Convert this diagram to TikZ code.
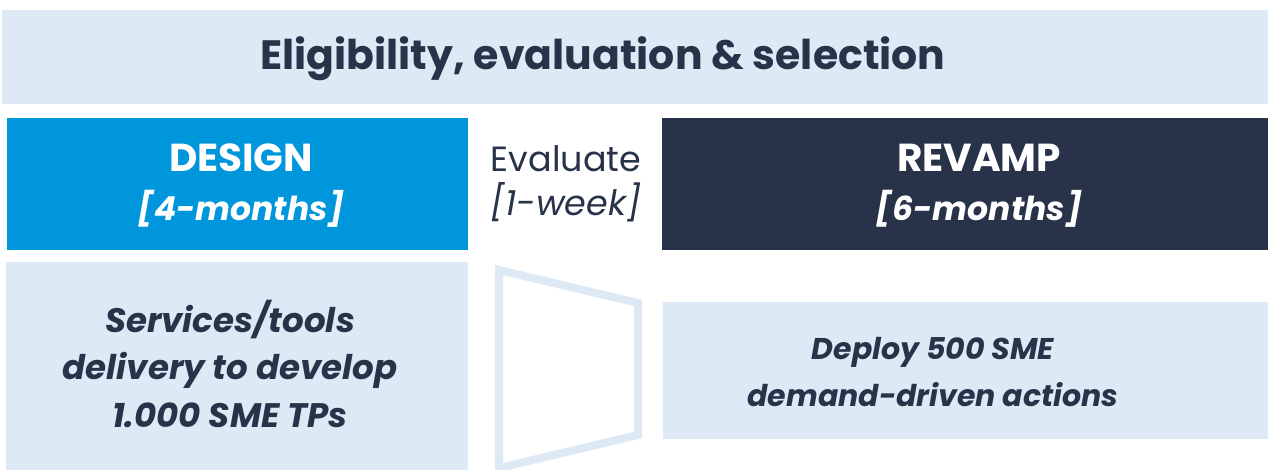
\documentclass[tikz,border=0pt]{standalone}
\usepackage{fontspec}
\setmainfont{Poppins}
\usetikzlibrary{positioning}
\definecolor{band}{HTML}{DDE9F5}
\definecolor{designblue}{HTML}{0096DB}
\definecolor{navy}{HTML}{28334A}
\tikzset{panel/.style={inner sep=0pt, outer sep=0pt, anchor=north west},
    label text/.style={anchor=base, align=center, inner sep=0pt},
    title font/.style={font=\bfseries\fontsize{41}{50}\selectfont, text=navy},
    phase font/.style={font=\bfseries\fontsize{39}{49}\selectfont, text=white},
    body font/.style={font=\bfseries\itshape\fontsize{34}{47.5}\selectfont, text=navy}}
\newcommand\phasespan[1]{{\itshape\fontsize{33}{49}\selectfont [#1]}}

\begin{document}
\begin{tikzpicture}[x=1pt, y=-1pt]
     \useasboundingbox (0,0) rectangle (1268,470);
     % background panels
     \node[panel, fill=band, minimum width=1266pt, minimum height=94pt] (selection) at (2,10) {};
     \node[panel, fill=designblue, minimum width=461pt, minimum height=132pt] (design) at (7,118) {};
     \node[panel, fill=navy, minimum width=606pt, minimum height=132pt] (revamp) at (662,118) {};
     \node[panel, fill=band, minimum width=462pt, minimum height=208pt] (services) at (6,262) {};
     \node[panel, fill=band, minimum width=605pt, minimum height=137pt] (deploy) at (663,302) {};
     % funnel
     \draw[band, line width=8pt, line join=miter] (499,270) -- (638,303) -- (638,435) -- (499,468) -- cycle;
     % texts (anchored on the last baseline)
     \node[label text, title font] (title) at (603,70) {Eligibility, evaluation \& selection};
     \node[label text, phase font] (designtext) at (241,221) {DESIGN\\\phasespan{4-months}};
     \node[label text, font=\fontsize{35}{44}\selectfont, text=navy] (evaluate) at (566,216) {Evaluate\\\itshape [1-week]};
     \node[label text, phase font] (revamptext) at (979,221) {REVAMP\\\phasespan{6-months}};
     \node[label text, body font] (servicestext) at (230,427) {Services/tools\\delivery to develop\\1.000 SME TPs};
     \node[label text, body font, font=\bfseries\itshape\fontsize{30}{47}\selectfont] (deploytext) at (933,406) {Deploy 500 SME\\demand-driven actions};
 \end{tikzpicture}
\end{document}
